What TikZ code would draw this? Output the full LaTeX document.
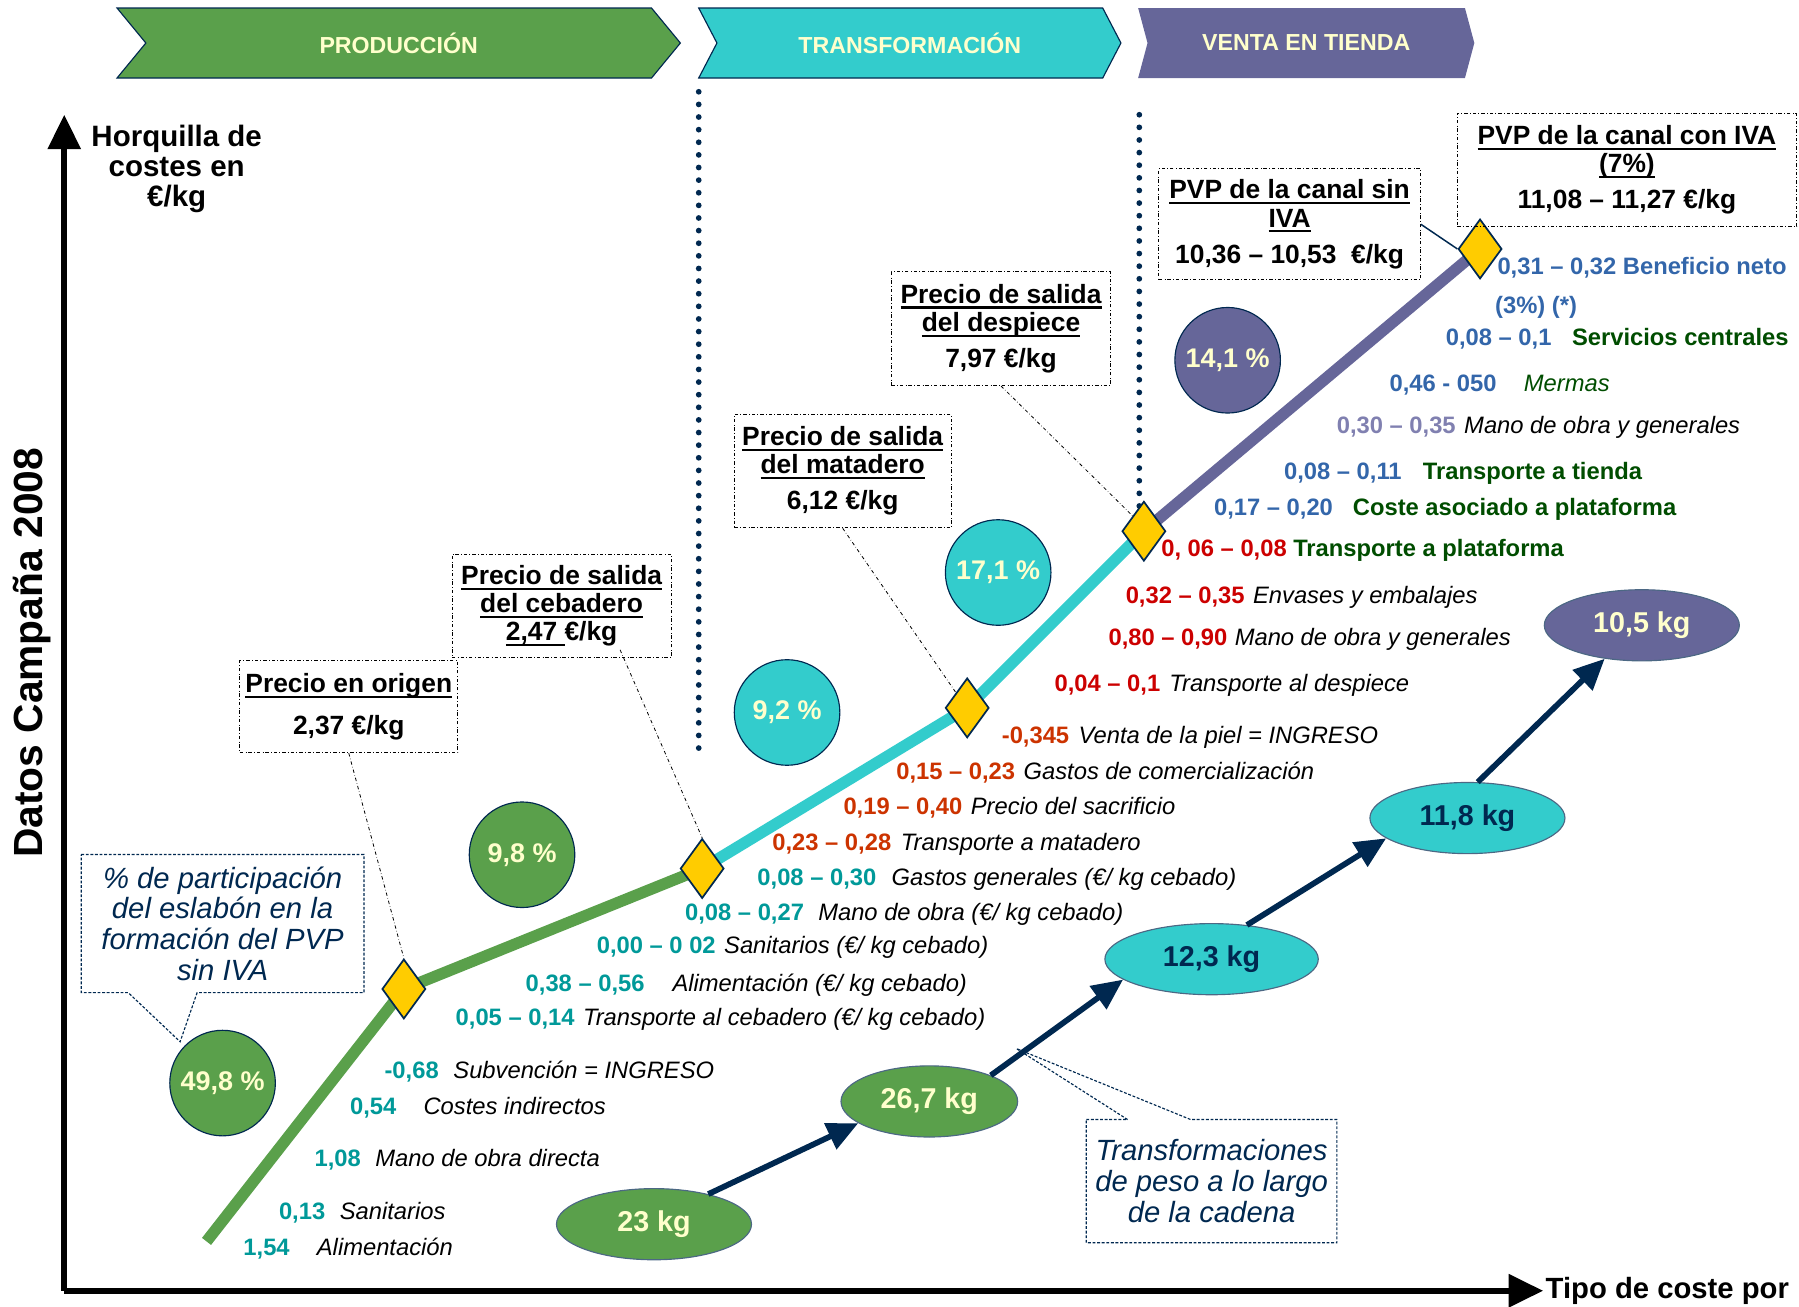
\documentclass[tikz,border=0pt]{standalone}
\usepackage{fontspec}
\setmainfont{Liberation Sans}
\usetikzlibrary{arrows.meta,calc,positioning,shapes.geometric,shapes.symbols}
\newcommand{\setfs}[2]{\fontsize{#1}{#2}\selectfont}
\newcommand{\ulbox}[1]{\setbox0\hbox{#1}\rlap{\rule[-4.5pt]{\wd0}{1.8pt}}\box0}
\definecolor{prodgreen}{RGB}{90,160,75}
\definecolor{transcyan}{RGB}{51,204,204}
\definecolor{ventapurple}{RGB}{102,102,153}
\definecolor{cream}{RGB}{255,255,204}
\definecolor{navy}{RGB}{0,40,80}
\definecolor{gold}{RGB}{255,204,0}
\definecolor{tealnum}{RGB}{0,153,153}
\definecolor{orangenum}{RGB}{204,51,0}
\definecolor{rednum}{RGB}{204,0,0}
\definecolor{bluenum}{RGB}{51,102,170}
\definecolor{lilacnum}{RGB}{128,128,176}
\definecolor{darkgreen}{RGB}{0,77,0}
\tikzset{%
	banner/.style   = {signal, signal from=west, signal to=east, minimum height=61pt, inner sep=0pt, text=cream, draw=navy, line width=1pt, font=\bfseries\setfs{20.2}{24}}, % Eslabon
	axis/.style     = {line width=5pt, -{Triangle[length=30pt,width=28pt]}},
	dotline/.style  = {navy, line width=5pt, line cap=round, dash pattern=on 0pt off 11pt},
	costline/.style = {line width=10pt},
	hito/.style     = {diamond, draw=navy, fill=gold, line width=1.5pt, minimum width=38pt, minimum height=52pt, inner sep=0pt}, % Precio
	pct/.style      = {circle, minimum size=92pt, draw=navy, line width=1pt, text=cream, font=\bfseries\setfs{23.5}{28}},
	wgt/.style      = {ellipse, minimum height=62pt, inner sep=0pt, draw=navy!70, line width=1pt, font=\bfseries\setfs{25}{30}},
	wtarrow/.style  = {navy, line width=5pt, -{Triangle[length=27pt,width=24pt]}},
	pricebox/.style = {draw, dash dot, line width=0.9pt, align=center, inner sep=0pt, font=\bfseries\setfs{23}{24.5}},
	leader/.style   = {dash dot, line width=0.7pt},
	notetext/.style = {align=center, inner sep=0pt, text=navy, font=\itshape\setfs{25.5}{26.7}},
	noteline/.style = {navy, line width=1pt, dash pattern=on 2.5pt off 1.5pt},
	costnum/.style  = {anchor=west, inner sep=0pt, text height=18pt, text depth=4pt, font=\bfseries\setfs{20.7}{24}},
	costtxt/.style  = {anchor=west, inner sep=0pt, text height=18pt, text depth=4pt, font=\itshape\setfs{20.7}{24}},
}

\begin{document}
\begin{tikzpicture}[x=1pt,y=-1pt]
	\useasboundingbox (0,0) rectangle (1568,1139);
	% eslabones de la cadena
	\node[banner, fill=prodgreen, signal pointer angle=101, minimum width=491pt] (prod) at (347.5,37.5) {PRODUCCIÓN};
	\node[banner, fill=transcyan, signal pointer angle=125, minimum width=368pt] (trans) at (793,37.5) {TRANSFORMACIÓN};
	\node[banner, fill=ventapurple, draw=none, signal pointer angle=150, minimum width=293pt] (venta) at (1138.5,37.5) {VENTA EN TIENDA};
	\draw[dotline] (609,80) -- (609,660);
	\draw[dotline] (993,100) -- (993,460);
	% ejes
	\coordinate (orig) at (56,1125);
	\coordinate (ytop) at (56,100);
	\coordinate (xend) at (1345,1125);
	\draw[axis] (orig) -- (ytop);
	\draw[axis] (orig) -- (xend);
	\node[align=center, font=\bfseries\setfs{25.7}{26}] (ylab) at (154,147) {Horquilla de\\costes en\\€/kg};
	\node[anchor=west, inner sep=2pt, font=\bfseries\setfs{25.5}{30}] (xlab) at (xend) {Tipo de coste por};
	\node[rotate=90, font=\bfseries\setfs{35.5}{40}] (datos) at (28,569) {Datos Campaña 2008};
	% linea de costes
	\coordinate (p0) at (180,1082);
	\coordinate (p1) at (352,862);
	\coordinate (p2) at (612,757);
	\coordinate (p3) at (843,617);
	\coordinate (p4) at (997,463);
	\coordinate (p5) at (1290,217);
	\draw[costline, prodgreen] (p0) -- (p1) -- (p2);
	\draw[costline, transcyan] (p2) -- (p3) -- (p4);
	\draw[costline, ventapurple] (p4) -- (p5);
	\foreach \i in {1,...,5}
		\node[hito] (d\i) at (p\i) {};
	% precios
	\node[pricebox, minimum width=190pt, minimum height=80pt] (pOrig) at (304,616) {\ulbox{Precio en origen}\\[12pt]2,37 €/kg};
	\node[pricebox, minimum width=191pt, minimum height=90pt] (pCeb) at (489.5,528) {\ulbox{Precio de salida}\\\ulbox{del cebadero}\\\ulbox{2,47\ }€/kg};
	\node[pricebox, minimum width=189pt, minimum height=99pt] (pMat) at (734.5,410.5) {\ulbox{Precio de salida}\\\ulbox{del matadero}\\[7pt]6,12 €/kg};
	\node[pricebox, minimum width=191pt, minimum height=99pt] (pDesp) at (872.5,286.5) {\ulbox{Precio de salida}\\\ulbox{del despiece}\\[7pt]7,97 €/kg};
	\node[pricebox, minimum width=228pt, minimum height=97pt] (pSin) at (1124,195.5) {\ulbox{PVP de la canal sin}\\\ulbox{IVA}\\[7pt]10,36 – 10,53\ \ €/kg};
	\node[pricebox, minimum width=296pt, minimum height=98pt] (pCon) at (1418,148) {\ulbox{PVP de la canal con IVA}\\\ulbox{(7\%)}\\[7pt]11,08 – 11,27 €/kg};
	\draw[leader] (pOrig.south) -- (d1.north);
	\draw[leader] ($(pCeb.south)+(51,-7)$) -- (d2.north);
	\draw[leader] (pMat.south) -- (d3.north west);
	\draw[leader] (pDesp.south) -- (d4.north west);
	\draw[navy, line width=1.3pt] (pSin.east) -- (d5.west);
	% participacion en el PVP
	\node[pct, fill=prodgreen] (pc1) at (194,944) {49,8 \%};
	\node[pct, fill=prodgreen] (pc2) at (455,745) {9,8 \%};
	\node[pct, fill=transcyan] (pc3) at (686,621) {9,2 \%};
	\node[pct, fill=transcyan] (pc4) at (870,499) {17,1 \%};
	\node[pct, fill=ventapurple] (pc5) at (1070,314) {14,1 \%};
	\node[notetext, minimum width=246pt, minimum height=120pt] (nPart) at (194,805) {\% de participación\\del eslabón en la\\formación del PVP\\sin IVA};
	\coordinate (tipP) at (157,908);
	\draw[noteline] (nPart.north west) -- (nPart.north east) -- (nPart.south east) -- ($(nPart.south west)+(101,0)$) -- (tipP) -- ($(nPart.south west)+(41,0)$) -- (nPart.south west) -- cycle;
	% pesos
	\node[wgt, fill=prodgreen, text=cream, minimum width=170pt] (w230) at (570,1067) {23 kg};
	\node[wgt, fill=prodgreen, text=cream, minimum width=154pt] (w267) at (810,960) {26,7 kg};
	\node[wgt, fill=transcyan, text=navy, minimum width=186pt] (w123) at (1056,836) {12,3 kg};
	\node[wgt, fill=transcyan, text=navy, minimum width=170pt] (w118) at (1279,713) {11,8 kg};
	\node[wgt, fill=ventapurple, text=cream, minimum width=170pt] (w105) at (1431,545) {10,5 kg};
	\draw[wtarrow] (w230.29) -- (w267.197);
	\draw[wtarrow] (w267.23) -- (w123.193);
	\draw[wtarrow] (w123.44) -- (w118.194);
	\draw[wtarrow] (w118.74) -- (w105.222);
	\node[notetext, minimum width=218pt, minimum height=107pt] (nTrans) at (1056,1029.5) {Transformaciones\\de peso a lo largo\\de la cadena};
	\coordinate (tipT) at (886,914);
	\draw[noteline] (nTrans.north west) -- ($(nTrans.north west)+(36,0)$) -- (tipT) -- ($(nTrans.north west)+(91,0)$) -- (nTrans.north east) -- (nTrans.south east) -- (nTrans.south west) -- cycle;
	% costes por partida
	\foreach \x/\y/\v/\c [count=\i] in {212/1087/{1,54}/tealnum, 243/1056/{0,13}/tealnum, 274/1010/{1,08}/tealnum,
		305/964/{0,54}/tealnum, 335/933/{-0,68}/tealnum, 397/887/{0,05 – 0,14}/tealnum, 458/857/{0,38 – 0,56}/tealnum,
		520/824/{0,00 – 0 02}/tealnum, 597/795/{0,08 – 0,27}/tealnum, 660/765/{0,08 – 0,30}/tealnum,
		673/734/{0,23 – 0,28}/orangenum, 735/703/{0,19 – 0,40}/orangenum, 781/672/{0,15 – 0,23}/orangenum,
		873/641/{-0,345}/orangenum, 919/596/{0,04 – 0,1}/rednum, 966/556/{0,80 – 0,90}/rednum,
		981/519/{0,32 – 0,35}/rednum, 1012/478/{0, 06 – 0,08}/rednum, 1058/442/{0,17 – 0,20}/bluenum,
		1119/411/{0,08 – 0,11}/bluenum, 1165/371/{0,30 – 0,35}/lilacnum, 1211/334/{0,46 - 050}/bluenum,
		1260/294/{0,08 – 0,1}/bluenum, 1305/232/{0,31 – 0,32 Beneficio neto}/bluenum, 1303/266/{(3\%) (*)}/bluenum}
		\node[costnum, text=\c] (num\i) at (\x,\y) {\v};
	\foreach \x/\y/\t [count=\i] in {276/1087/Alimentación, 296/1056/Sanitarios, 327/1010/Mano de obra directa,
		369/964/Costes indirectos, 395/933/Subvención = INGRESO, 508/887/{Transporte al cebadero (€/ kg cebado)},
		586/857/{Alimentación (€/ kg cebado)}, 631/824/{Sanitarios (€/ kg cebado)}, 713/795/{Mano de obra (€/ kg cebado)},
		777/765/{Gastos generales (€/ kg cebado)}, 785/734/Transporte a matadero, 846/703/Precio del sacrificio,
		892/672/Gastos de comercialización, 940/641/Venta de la piel = INGRESO, 1019/596/Transporte al despiece,
		1076/556/Mano de obra y generales, 1092/519/Envases y embalajes, 1276/371/Mano de obra y generales}
		\node[costtxt] (txt\i) at (\x,\y) {\t};
	\foreach \x/\y/\t [count=\i] in {1127/478/Transporte a plataforma, 1179/442/Coste asociado a plataforma,
		1240/411/Transporte a tienda, 1370/294/Servicios centrales}
		\node[costnum, text=darkgreen] (tienda\i) at (\x,\y) {\t};
	\node[costtxt, text=darkgreen] (mermas) at (1328,334) {Mermas};
\end{tikzpicture}
\end{document}
